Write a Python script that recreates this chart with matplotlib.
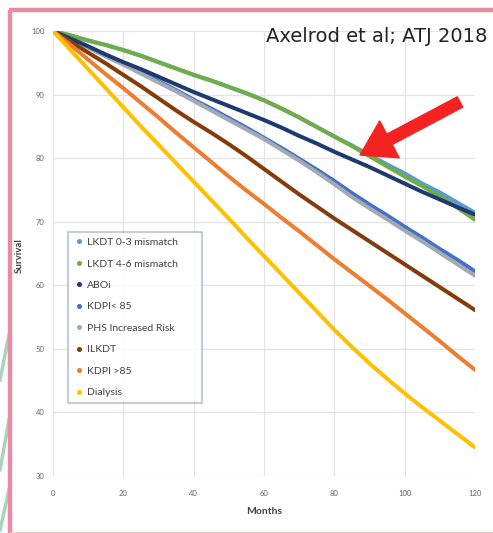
import matplotlib
matplotlib.use('Agg')
import matplotlib.pyplot as plt
from matplotlib.lines import Line2D
from matplotlib.patches import FancyArrowPatch

# ---- data ----
months = [0, 5, 10, 15, 20, 25, 30, 35, 40, 45, 50, 55, 60,
          65, 70, 75, 80, 85, 90, 95, 100, 105, 110, 115, 120]
lkdt_03 = [100, 99.3, 98.5, 97.8, 97.0, 96.1, 95.1, 94.1, 93.1, 92.2, 91.2, 90.2, 89.1,
           87.8, 86.4, 84.9, 83.4, 82.0, 80.5, 79.0, 77.6, 76.0, 74.6, 73.0, 71.4]
lkdt_46 = [100, 99.3, 98.5, 97.8, 97.0, 96.1, 95.1, 94.1, 93.1, 92.2, 91.2, 90.2, 89.1,
           87.8, 86.4, 84.9, 83.4, 81.9, 80.3, 78.7, 77.1, 75.6, 74.0, 72.2, 70.3]
aboi = [100, 98.8, 97.6, 96.3, 95.1, 94.0, 92.8, 91.6, 90.4, 89.3, 88.2, 87.1, 86.0,
        84.8, 83.5, 82.3, 81.0, 79.8, 78.6, 77.3, 76.0, 74.7, 73.5, 72.3, 71.1]
kdpi_lt85 = [100, 98.8, 97.5, 96.2, 94.9, 93.5, 92.1, 90.7, 89.2, 87.8, 86.3, 84.8, 83.2,
             81.6, 79.9, 78.2, 76.4, 74.5, 72.7, 71.0, 69.2, 67.5, 65.7, 64.0, 62.2]
phs = [100, 98.7, 97.4, 96.0, 94.7, 93.3, 91.9, 90.5, 89.0, 87.5, 86.0, 84.5, 83.0,
       81.3, 79.6, 77.8, 75.9, 73.9, 72.1, 70.4, 68.6, 66.9, 65.1, 63.3, 61.5]
ilkdt = [100, 98.3, 96.6, 94.9, 93.1, 91.3, 89.4, 87.5, 85.7, 84.0, 82.2, 80.3, 78.3,
         76.3, 74.3, 72.4, 70.5, 68.7, 66.9, 65.1, 63.3, 61.5, 59.7, 57.9, 56.1]
kdpi_gt85 = [100, 97.8, 95.5, 93.2, 91.0, 88.7, 86.4, 84.0, 81.7, 79.4, 77.1, 74.9, 72.8,
             70.6, 68.5, 66.3, 64.1, 62.0, 59.9, 57.8, 55.6, 53.4, 51.2, 48.9, 46.7]
dialysis = [100, 97.0, 94.0, 91.0, 88.0, 85.0, 82.1, 79.2, 76.3, 73.4, 70.5, 67.5, 64.6,
            61.7, 58.8, 55.9, 53.0, 50.3, 47.7, 45.3, 43.0, 40.8, 38.7, 36.6, 34.5]

labels = ["LKDT 0-3 mismatch", "LKDT 4-6 mismatch", "ABOi", "KDPI< 85",
          "PHS Increased Risk", "ILKDT", "KDPI >85", "Dialysis"]
series = [lkdt_03, lkdt_46, aboi, kdpi_lt85, phs, ilkdt, kdpi_gt85, dialysis]
colors = ["#5B9BD5", "#70AD47", "#1F3A6E", "#4472C4", "#A3A9B5",
          "#843C0C", "#ED7D31", "#FFC000"]
xticks = [0, 20, 40, 60, 80, 100, 120]
yticks = [30, 40, 50, 60, 70, 80, 90, 100]

W, H = 493, 533
fig = plt.figure(figsize=(W / 100, H / 100), dpi=100)
fig.patch.set_facecolor('white')

ax = fig.add_axes([53 / W, 1 - 476 / H, (475 - 53) / W, (476 - 31) / H])
ax.set_xlim(0, 120)
ax.set_ylim(30, 100)
ax.set_xticks(xticks)
ax.set_yticks(yticks)
ax.grid(True, color='#E4E4E4', lw=0.9)
ax.set_axisbelow(True)
for s in ax.spines.values():
    s.set_visible(False)
ax.tick_params(length=0, labelsize=5.5, labelcolor='#666666')
ax.tick_params(axis='y', pad=6)
ax.tick_params(axis='x', pad=10)
for t in ax.get_xticklabels() + ax.get_yticklabels():
    t.set_family('Lato')

draw_order = [3, 4, 0, 1, 2, 5, 6, 7]
for i in draw_order:
    ax.plot(months, series[i], color=colors[i], lw=2.9, solid_capstyle='round',
            solid_joinstyle='round', zorder=3)

ax.set_xlabel("Months", fontsize=7.5, family='Lato', fontweight='bold', color='#404040', labelpad=7)
ax.set_ylabel("Survival", fontsize=7, family='Lato', fontweight='bold', color='#404040')
ax.yaxis.set_label_coords((24 - 53) / (475 - 53), (476 - 256) / (476 - 31))

handles = [Line2D([], [], marker='o', ls='none', markersize=2.6, color=c) for c in colors]
leg = fig.legend(handles, labels, loc='upper left',
                 bbox_to_anchor=(68 / W, 1 - 232 / H, (202 - 68) / W, 0.0), mode='expand',
                 prop={'family': 'Lato', 'size': 7.5}, labelspacing=1.17, handlelength=1.0,
                 handletextpad=0.3, borderpad=0.55, borderaxespad=0, fancybox=False,
                 frameon=True, edgecolor='#9FB4D0')
leg.get_frame().set_linewidth(1.2)
for t in leg.get_texts():
    t.set_color('#404040')

# title text
fig.text(487 / W, 1 - 37 / H, "Axelrod et al; ATJ 2018", ha='right', va='center',
         fontsize=14, family='DejaVu Sans', color='#222222')

# red arrow
arr = FancyArrowPatch(posA=(460, H - 102), posB=(360, H - 155), transform=None,
                      arrowstyle='simple,head_width=1.5,head_length=1.2,tail_width=0.42',
                      mutation_scale=20, color='#F52222', shrinkA=0, shrinkB=0, zorder=10)
fig.add_artist(arr)

# decorative greens left of frame
for (x0, y0, x1, y1) in [(0, 380, 9, 335), (0, 470, 9, 420), (0, 530, 9, 490)]:
    fig.add_artist(Line2D([x0 / W, x1 / W], [1 - y0 / H, 1 - y1 / H], color='#A9D3BC', lw=2.5))

# pink slide frame
pink = '#E98CA3'
fig.add_artist(Line2D([10 / W, 10 / W], [0, 1 - 10 / H], color=pink, lw=3.2, solid_capstyle='butt'))
fig.add_artist(Line2D([10 / W - 0.003, 1], [1 - 10 / H, 1 - 10 / H], color=pink, lw=3.2, solid_capstyle='butt'))
fig.add_artist(Line2D([10 / W, 1], [1 - 531.5 / H, 1 - 531.5 / H], color='#F4C4CF', lw=0.8))

fig.savefig('out.png', dpi=100, facecolor='white')
